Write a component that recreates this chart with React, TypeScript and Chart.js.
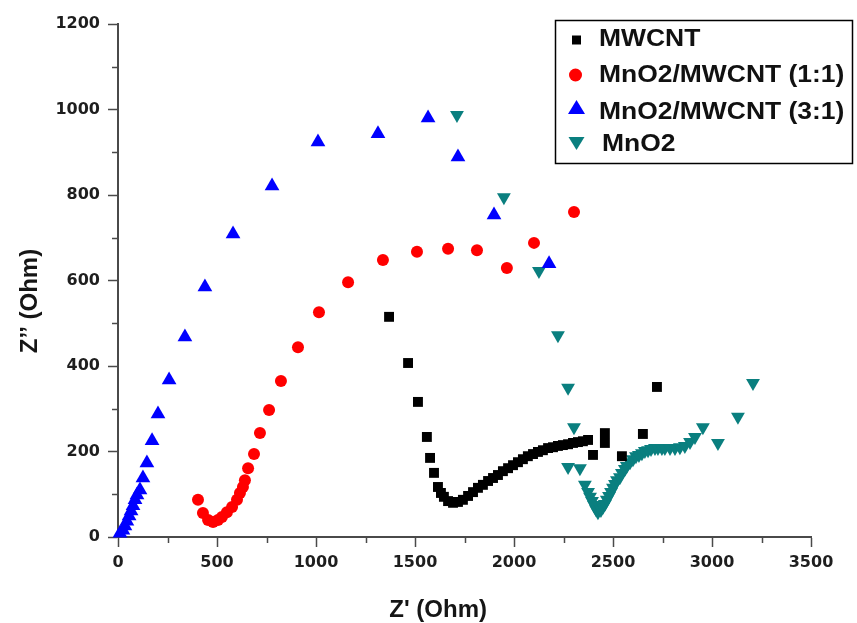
import React, { useEffect, useRef } from 'react';
import { Chart, registerables } from 'chart.js';

Chart.register(...registerables);

// ---- Data (Z' in Ohm, Z'' in Ohm) ----
const mwcntZre = [1369, 1465, 1515, 1560, 1576, 1596, 1616, 1631, 1646, 1667, 1692, 1717, 1742, 1768, 1793, 1818, 1843, 1869, 1894, 1919, 1944, 1970, 1995, 2020, 2045, 2070, 2096, 2121, 2146, 2172, 2197, 2222, 2247, 2273, 2298, 2323, 2348, 2374, 2399, 2459, 2459, 2545, 2651, 2722];
const mwcntZim = [515, 407, 316, 234, 185, 150, 117, 103, 94, 84, 80, 82, 87, 96, 105, 115, 122, 131, 138, 145, 154, 161, 168, 175, 182, 189, 194, 199, 203, 208, 210, 213, 215, 217, 220, 222, 224, 227, 192, 243, 220, 189, 241, 351];

const mix11Zre = [404, 429, 455, 480, 505, 525, 550, 576, 601, 616, 631, 641, 657, 687, 717, 763, 823, 909, 1015, 1162, 1338, 1510, 1667, 1813, 1964, 2101, 2303];
const mix11Zim = [87, 56, 40, 35, 40, 47, 58, 70, 87, 103, 117, 133, 161, 194, 243, 297, 365, 444, 526, 596, 648, 667, 674, 671, 629, 688, 760];

const mix31Zre = [10, 25, 35, 45, 56, 66, 76, 86, 96, 111, 126, 146, 172, 202, 258, 338, 439, 581, 778, 1010, 1313, 1566, 1717, 1899, 2177];
const mix31Zim = [9, 16, 26, 37, 49, 61, 73, 87, 98, 110, 138, 173, 225, 288, 367, 468, 585, 709, 821, 924, 943, 980, 889, 753, 639];

const mno2Zre = [1712, 1949, 2126, 2222, 2273, 2303, 2273, 2333, 2358, 2374, 2384, 2394, 2404, 2414, 2424, 2439, 2449, 2459, 2469, 2480, 2490, 2500, 2510, 2520, 2535, 2545, 2560, 2570, 2586, 2601, 2616, 2631, 2646, 2661, 2677, 2692, 2712, 2727, 2747, 2762, 2788, 2813, 2838, 2863, 2889, 2914, 2954, 3030, 3131, 3207];
const mno2Zim = [987, 795, 622, 472, 349, 257, 164, 161, 122, 105, 94, 84, 75, 65, 58, 63, 70, 77, 87, 96, 105, 115, 124, 133, 140, 150, 159, 166, 175, 182, 189, 192, 196, 201, 203, 206, 208, 208, 208, 208, 208, 208, 210, 213, 222, 234, 257, 220, 281, 360];

const seriesLabels = ['MWCNT', 'MnO2/MWCNT (1:1)', 'MnO2/MWCNT (3:1)', 'MnO2'];
const seriesColors = ['#000000', '#ff0000', '#0000ff', '#0a7f7f'];

const xMax = 3500;
const yMax = 1200;
const xStep = 500;
const yStep = 200;
const xTitle = "Z' (Ohm)";
const yTitle = 'Z\u2019\u2019 (Ohm)';

const toPoints = (xs: number[], ys: number[]) => xs.map((x, i) => ({ x, y: ys[i] }));

const AXIS_COLOR = '#4a4a4a';

const decorPlugin = {
  id: 'decor',
  afterDraw(chart: any) {
    const ctx = chart.ctx as CanvasRenderingContext2D;
    const xs = chart.scales.x;
    const ys = chart.scales.y;
    const area = chart.chartArea;
    ctx.save();
    // minor ticks
    ctx.strokeStyle = AXIS_COLOR;
    ctx.lineWidth = 1.5;
    for (let v = xStep / 2; v < xMax; v += xStep) {
      const px = Math.round(xs.getPixelForValue(v)) + 0.5;
      ctx.beginPath();
      ctx.moveTo(px, area.bottom);
      ctx.lineTo(px, area.bottom + 6);
      ctx.stroke();
    }
    for (let v = yStep / 2; v < yMax; v += yStep) {
      const py = Math.round(ys.getPixelForValue(v)) + 0.5;
      ctx.beginPath();
      ctx.moveTo(area.left, py);
      ctx.lineTo(area.left - 6, py);
      ctx.stroke();
    }

    // axis titles
    ctx.fillStyle = '#151515';
    ctx.font = 'bold 24px "Liberation Sans", Arial, sans-serif';
    ctx.textAlign = 'center';
    ctx.textBaseline = 'alphabetic';
    const xtX = area.left + (area.right - area.left) * 0.462;
    ctx.fillText(xTitle, xtX, 617);

    ctx.save();
    const ytY = area.top + (area.bottom - area.top) * 0.54;
    ctx.translate(37, ytY);
    ctx.rotate(-Math.PI / 2);
    ctx.fillText(yTitle, 0, 0);
    ctx.restore();

    // legend box
    const boxL = 555.5;
    const boxT = 20.5;
    const boxW = 297;
    const boxH = 143;
    ctx.fillStyle = '#ffffff';
    ctx.fillRect(boxL, boxT, boxW, boxH);
    ctx.strokeStyle = '#000';
    ctx.lineWidth = 1.5;
    ctx.strokeRect(boxL, boxT, boxW, boxH);

    const rowBase = [46, 81.5, 119, 150.5];
    const rowMid = [40, 75, 108, 143];
    const mx = boxL + 21;
    chart.data.datasets.forEach((ds: any, i: number) => {
      const cy = rowMid[i];
      ctx.fillStyle = ds.backgroundColor;
      ctx.beginPath();
      if (i === 0) {
        ctx.rect(mx - 4.5, cy - 4.5, 9, 9);
      } else if (i === 1) {
        ctx.arc(mx - 1, cy, 6.5, 0, Math.PI * 2);
      } else if (i === 2) {
        ctx.moveTo(mx, cy - 8);
        ctx.lineTo(mx + 8.5, cy + 6);
        ctx.lineTo(mx - 8.5, cy + 6);
        ctx.closePath();
      } else {
        ctx.moveTo(mx, cy + 7);
        ctx.lineTo(mx + 8, cy - 6);
        ctx.lineTo(mx - 8, cy - 6);
        ctx.closePath();
      }
      ctx.fill();

      ctx.save();
      ctx.fillStyle = '#111';
      ctx.font = 'bold 23px "Liberation Sans", Arial, sans-serif';
      ctx.textAlign = 'left';
      ctx.textBaseline = 'alphabetic';
      ctx.translate(i === 3 ? 602 : 599, rowBase[i]);
      ctx.scale(1.15, 1);
      ctx.fillText(ds.label, 0, 0);
      ctx.restore();
    });
    ctx.restore();
  },
};

export default function App() {
  const canvasRef = useRef<HTMLCanvasElement | null>(null);

  useEffect(() => {
    if (!canvasRef.current) return;
    const tickFont = { family: '"DejaVu Sans", sans-serif', weight: 'bold' as const, size: 16 };
    const plain = (v: any) => String(v);
    const chart = new Chart(canvasRef.current, {
      type: 'scatter',
      data: {
        datasets: [
          {
            label: seriesLabels[0],
            data: toPoints(mwcntZre, mwcntZim),
            backgroundColor: seriesColors[0],
            borderColor: seriesColors[0],
            borderWidth: 0,
            pointStyle: 'rect',
            pointRadius: 7,
            pointHoverRadius: 7,
            clip: false,
          },
          {
            label: seriesLabels[1],
            data: toPoints(mix11Zre, mix11Zim),
            backgroundColor: seriesColors[1],
            borderColor: seriesColors[1],
            borderWidth: 0,
            pointStyle: 'circle',
            pointRadius: 6,
            pointHoverRadius: 6,
            clip: false,
          },
          {
            label: seriesLabels[2],
            data: toPoints(mix31Zre, mix31Zim),
            backgroundColor: seriesColors[2],
            borderColor: seriesColors[2],
            borderWidth: 0,
            pointStyle: 'triangle',
            pointRadius: 8.5,
            pointHoverRadius: 8.5,
            clip: false,
          },
          {
            label: seriesLabels[3],
            data: toPoints(mno2Zre, mno2Zim),
            backgroundColor: seriesColors[3],
            borderColor: seriesColors[3],
            borderWidth: 0,
            pointStyle: 'triangle',
            pointRotation: 180,
            pointRadius: 8,
            pointHoverRadius: 8,
            clip: false,
          },
        ],
      },
      options: {
        responsive: false,
        maintainAspectRatio: false,
        animation: false,
        devicePixelRatio: 1,
        layout: { padding: { top: 24, right: 46, left: 0, bottom: 0 } },
        plugins: {
          legend: { display: false },
          tooltip: { enabled: false },
        },
        scales: {
          x: {
            type: 'linear',
            min: 0,
            max: xMax,
            ticks: { stepSize: xStep, font: tickFont, color: '#1e1e1e', padding: 6, maxRotation: 0, callback: plain },
            grid: { drawOnChartArea: false, drawTicks: true, tickLength: 10, color: AXIS_COLOR, tickWidth: 1.5 },
            border: { display: true, color: AXIS_COLOR, width: 2 },
            title: { display: false },
            afterFit: (s: any) => { s.height = 86; },
          },
          y: {
            type: 'linear',
            min: 0,
            max: yMax,
            ticks: { stepSize: yStep, font: tickFont, color: '#1e1e1e', padding: 8, callback: plain },
            grid: { drawOnChartArea: false, drawTicks: true, tickLength: 10, color: AXIS_COLOR, tickWidth: 1.5 },
            border: { display: true, color: AXIS_COLOR, width: 2 },
            title: { display: false },
            afterFit: (s: any) => { s.width = 118; },
          },
        },
      },
      plugins: [decorPlugin],
    } as any);
    return () => chart.destroy();
  }, []);

  return (
    <div style={{ position: 'absolute', left: 0, top: 0, width: 857, height: 623, background: '#fff' }}>
      <canvas ref={canvasRef} width={857} height={623} style={{ display: 'block', width: 857, height: 623 }} />
    </div>
  );
}
